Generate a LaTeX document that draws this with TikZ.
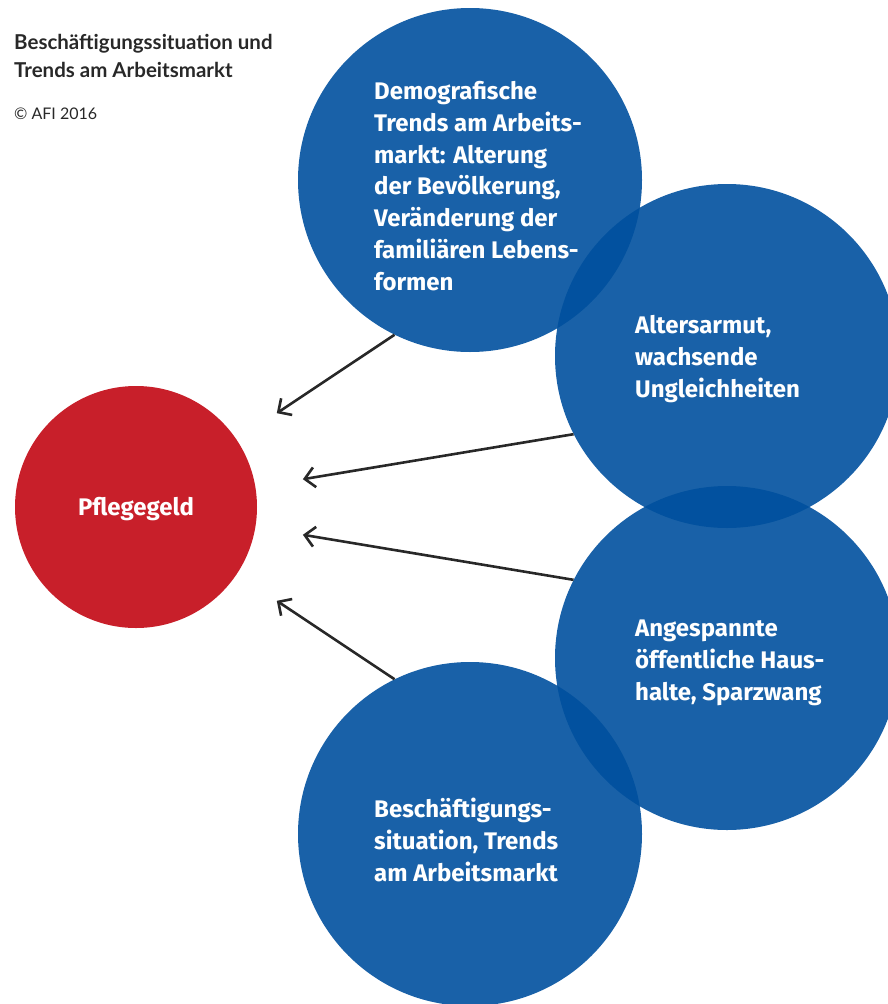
\documentclass[tikz,border=0pt]{standalone}
\usepackage{fontspec}
\setmainfont{Lato}
\newfontfamily\circfont{Fira Sans}
\usetikzlibrary{arrows.meta}
\definecolor{afiblue}{RGB}{0,80,158}
\definecolor{afired}{RGB}{200,31,42}
\definecolor{afigray}{RGB}{40,40,40}
\tikzset{
	bubble/.style={circle, fill=afiblue, fill opacity=0.9, minimum size=344pt, inner sep=0pt},
	bubbletext/.style={anchor=base west, inner sep=0pt, align=left, text=white, font=\circfont\bfseries\fontsize{24}{31.7}\selectfont},
	arr/.style={line width=2.6pt, draw=afigray, -{Straight Barb[length=10pt, width=20pt]}, shorten >=48pt}
}
\begin{document}
\begin{tikzpicture}[x=1pt, y=-1pt]
	\useasboundingbox (0,0) rectangle (888,1004);
	\clip (0,0) rectangle (888,1004);
	%title
	\node[anchor=base west, inner sep=0pt, align=left, text=afigray, font=\bfseries\fontsize{20.5}{28}\selectfont] (title) at (14,77) {Beschäftigungssituation und\\Trends am Arbeitsmarkt};
	\node[anchor=base west, inner sep=0pt, text=afigray, font=\fontsize{16}{20}\selectfont] (copy) at (14,119) {© AFI 2016};
	%bubbles
	\node[bubble] (demo) at (470,180) {};
	\node[bubble] (armut) at (727,356) {};
	\node[bubble] (haushalt) at (727,658) {};
	\node[bubble] (besch) at (470,834) {};
	\node[circle, fill=afired, minimum size=242pt, inner sep=0pt] (pflege) at (136,507) {};
	%texts (base = last line)
	\node[bubbletext] (demotext) at (374,290) {Demografische\\Trends am Arbeits-\\markt: Alterung\\der Bevölkerung,\\Veränderung der\\familiären Lebens-\\formen};
	\node[bubbletext] (armuttext) at (635,397) {Altersarmut,\\wachsende\\Ungleichheiten};
	\node[bubbletext] (haushalttext) at (635,700) {Angespannte\\öffentliche Haus-\\halte, Sparzwang};
	\node[bubbletext] (beschtext) at (374,881) {Beschäftigungs-\\situation, Trends\\am Arbeitsmarkt};
	\node[bubbletext, anchor=base] (pflegetext) at (136,515) {Pflegegeld};
	%arrows
	\draw[arr] (demo.244) -- (pflege);
	\draw[arr] (armut.207) -- (pflege);
	\draw[arr] (haushalt.153) -- (pflege);
	\draw[arr] (besch.116) -- (pflege);
\end{tikzpicture}
\end{document}
